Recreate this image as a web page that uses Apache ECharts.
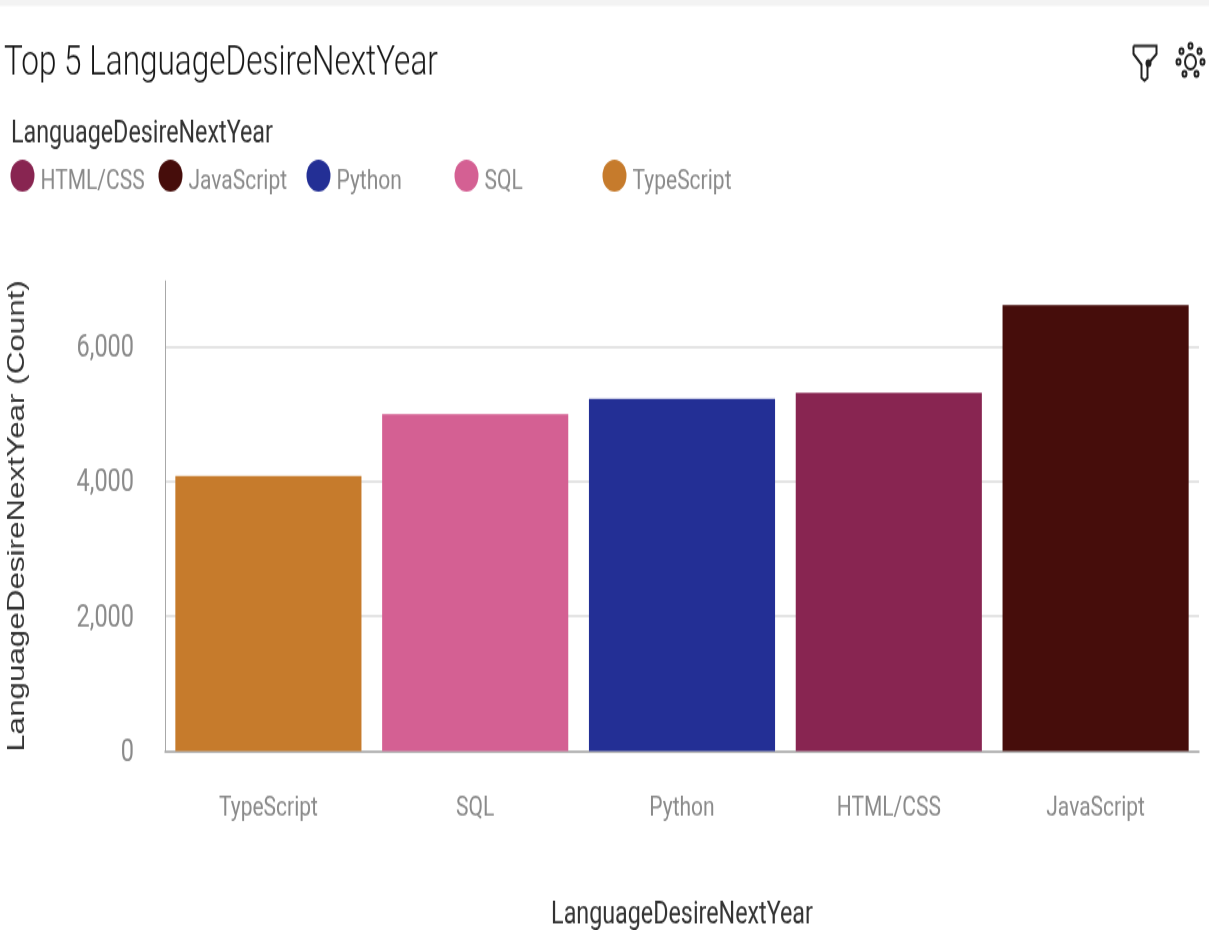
<!DOCTYPE html>
<html><head><meta charset="utf-8">
<style>html,body{margin:0;padding:0;background:#fff;overflow:hidden}
#wrap{width:1209px;height:930px;overflow:hidden}
#c{width:1209px;height:699px;transform:scale(1,1.3305);transform-origin:0 0}</style>
<script src="https://cdn.jsdelivr.net/npm/echarts@6/dist/echarts.min.js"></script>
</head><body><div id="wrap"><div id="c"></div></div>
<script>
const categories=['TypeScript','SQL','Python','HTML/CSS','JavaScript'];
const values=[4084,5005,5228,5317,6624];
const colors=['#c67b2c','#d46093','#232f95','#882551','#460d0b'];
const legendOrder=['HTML/CSS','JavaScript','Python','SQL','TypeScript'];
const yTicks=[0,2000,4000,6000];
const S=1.3305;
const font='Roboto';
const chart=echarts.init(document.getElementById('c'),null,{renderer:'canvas'});
chart.setOption({
 animation:false,
 textStyle:{fontFamily:font},
 title:[
  {text:'Top 5 LanguageDesireNextYear',left:4,top:32,padding:0,textStyle:{fontFamily:font,fontWeight:300,fontSize:31.5,color:'#161616'}},
  {text:'LanguageDesireNextYear',left:11,top:90,padding:0,textStyle:{fontFamily:font,fontWeight:400,fontSize:23.3,color:'#333'}}
 ],
 legend:legendOrder.map((n,i)=>({left:10.5+148*i,top:120,padding:0,itemGap:0,itemWidth:24,itemHeight:24,icon:'circle',data:[n],
  formatter:'{a|{name}}',
  textStyle:{fontFamily:font,fontSize:21,color:'#8a8a8a',
    rich:{a:{fontFamily:font,fontSize:21,color:'#8a8a8a',padding:[10,0,0,1]}}}})),
 grid:{left:165,right:10,top:281/S,bottom:699-751/S,outerBoundsMode:'none'},
 xAxis:{type:'category',data:categories,axisTick:{show:false},
  axisLine:{lineStyle:{color:'#a8a8a8',width:1.5}},
  axisLabel:{margin:32.5,fontSize:21,color:'#8a8a8a',fontFamily:font},
  name:'LanguageDesireNextYear',nameLocation:'middle',nameGap:112.5,
  nameTextStyle:{fontSize:23.3,color:'#333',fontFamily:font}},
 yAxis:{type:'value',min:0,max:6980,interval:yTicks[1],
  axisLine:{show:true,lineStyle:{color:'#a8a8a8',width:1}},axisTick:{show:false},
  splitLine:{show:true,showMaxLine:false,lineStyle:{color:'#e4e4e4',width:2}},
  axisLabel:{margin:31,fontSize:23.5,color:'#8a8a8a',fontFamily:font,showMaxLabel:false,
    rich:{a:{fontFamily:font,fontSize:23.5,color:'#8a8a8a',padding:[3,0,0,0]}},
    formatter:v=>'{a|'+v.toLocaleString('en-US')+'}'},
  name:'LanguageDesireNextYear (Count)',nameLocation:'middle',nameGap:135.5,
  nameTextStyle:{fontFamily:'Liberation Sans',fontSize:23.6,color:'#333'}},
 series:categories.map((c,i)=>({name:c,type:'bar',stack:'t',barCategoryGap:'10%',
   itemStyle:{color:colors[i]},
   data:categories.map((_,j)=>j===i?values[i]:null)})),
 graphic:[
  {type:'rect',left:0,top:0,shape:{width:1209,height:4.5},style:{fill:'#f3f3f3'},silent:true},
  {type:'group',left:1131,top:32,children:[
    {type:'polyline',shape:{points:[[1,1],[24,1],[24,7],[15,15],[15,25],[12,27],[9,25],[9,15],[1,7],[1,1]]},style:{fill:'none',stroke:'#222',lineWidth:2}},
    {type:'circle',shape:{cx:16,cy:14,r:3},style:{fill:'#222'}}]},
  {type:'group',left:1174,top:30,children:[
    {type:'circle',shape:{cx:14,cy:14,r:5.5},style:{fill:'none',stroke:'#222',lineWidth:2}},
    ...[[14,2],[5,6],[23,6],[2,14],[26,14],[8,23],[20,23]].map(p=>({type:'circle',shape:{cx:p[0],cy:p[1],r:2},style:{fill:'none',stroke:'#222',lineWidth:2}}))]}
 ]
});
</script></body></html>
